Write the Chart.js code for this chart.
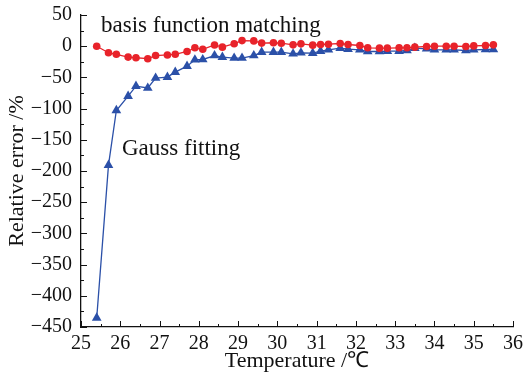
<!DOCTYPE html>
<html>
<head>
<meta charset="utf-8">
<script src="https://cdn.jsdelivr.net/npm/chart.js@4.4.1/dist/chart.umd.min.js"></script>
<style>
  html, body { margin: 0; padding: 0; background: #fff; }
  #wrap { width: 526px; height: 375px; }
</style>
</head>
<body>
<div id="wrap"><canvas id="errChart"></canvas></div>
<script>
// temperatures (°C)
const temps = [25.4, 25.7, 25.9, 26.2, 26.4, 26.7, 26.9, 27.2, 27.4, 27.7, 27.9, 28.1, 28.4, 28.6,
  28.9, 29.1, 29.4, 29.6, 29.9, 30.1, 30.4, 30.6, 30.9, 31.1, 31.3, 31.6, 31.8, 32.1, 32.3, 32.6,
  32.8, 33.1, 33.3, 33.5, 33.8, 34.0, 34.3, 34.5, 34.8, 35.0, 35.3, 35.5];

// relative error (%) - basis function matching
const basisErr = [0, -10.5, -13, -17.5, -18.5, -20, -15, -14, -13, -8.5, -2.6, -5, 2, -1.5,
  4, 9, 8.5, 5, 5.5, 4.8, 2.2, 3.8, 1.7, 2.7, 3.2, 4.3, 2.7, 1.1, -2.6, -3.1,
  -3.1, -2.6, -2.6, -1.5, -0.5, 0, 0, 0, -0.5, 0.5, 1.1, 2.2];

// relative error (%) - Gauss fitting
const gaussErr = [-435.5, -190.6, -103, -80, -64, -67, -51, -49.5, -41.5, -32, -21.8, -21.3, -15, -17.5,
  -19, -19, -15, -9.6, -9.6, -9.5, -12.2, -10.6, -11.1, -7.9, -5.8, -3.1, -4.7, -5.8, -8.5, -8.5,
  -7.9, -7.9, -6.9, -3.1, -4.2, -5.8, -5.8, -5.8, -6.9, -5.8, -5.3, -5.3];

const xTicks = [25, 26, 27, 28, 29, 30, 31, 32, 33, 34, 35, 36];
const yTicks = [50, 0, -50, -100, -150, -200, -250, -300, -350, -400, -450];

const SERIF = '"Liberation Serif", "Times New Roman", serif';
const RED = '#e8232a';
const BLUE = '#2b50a8';

const toXY = (vals) => vals.map((v, i) => ({ x: temps[i], y: v }));

// inward ticks, axis titles and curve labels
const decorPlugin = {
    id: 'decor',
    afterDraw(chart) {
        const { ctx, chartArea: a, scales: { x, y } } = chart;
        ctx.save();
        ctx.strokeStyle = '#111';
        ctx.lineWidth = 1;
        for (let v = 25; v <= 36.001; v += 0.5) {
            const px = Math.round(x.getPixelForValue(v)) + 0.5;
            const len = Number.isInteger(v) ? 6 : 3;
            ctx.beginPath(); ctx.moveTo(px, a.bottom); ctx.lineTo(px, a.bottom - len); ctx.stroke();
        }
        for (let v = -450; v <= 50.001; v += 25) {
            const py = Math.round(y.getPixelForValue(v)) + 0.5;
            const len = (v % 50 === 0) ? 6 : 3;
            ctx.beginPath(); ctx.moveTo(a.left, py); ctx.lineTo(a.left + len, py); ctx.stroke();
        }

        ctx.fillStyle = '#111';
        ctx.font = '22px ' + SERIF;
        ctx.textAlign = 'center';
        ctx.textBaseline = 'alphabetic';
        ctx.fillText('Temperature /℃', (a.left + a.right) / 2, 367);

        ctx.save();
        ctx.translate(23, (a.top + a.bottom) / 2);
        ctx.rotate(-Math.PI / 2);
        ctx.fillText('Relative error /%', 0, 0);
        ctx.restore();

        ctx.textAlign = 'left';
        ctx.font = '23px ' + SERIF;
        ctx.fillText('basis function matching', 101, 32);
        ctx.fillText('Gauss fitting', 122, 155);
        ctx.restore();
    }
};

new Chart(document.getElementById('errChart'), {
    type: 'line',
    data: {
        datasets: [{
            label: 'basis function matching',
            data: toXY(basisErr),
            borderColor: RED,
            backgroundColor: RED,
            borderWidth: 1.3,
            pointStyle: 'circle',
            pointRadius: 3.8,
            pointBorderWidth: 0,
            tension: 0
        }, {
            label: 'Gauss fitting',
            data: toXY(gaussErr),
            borderColor: BLUE,
            backgroundColor: BLUE,
            borderWidth: 1.3,
            pointStyle: 'triangle',
            pointRadius: 5.6,
            pointBorderWidth: 0,
            tension: 0
        }]
    },
    options: {
        responsive: true,
        maintainAspectRatio: false,
        animation: false,
        events: [],
        layout: { padding: { left: 0, right: 13, top: 15, bottom: 0 } },
        plugins: { legend: { display: false }, tooltip: { enabled: false } },
        scales: {
            x: {
                type: 'linear',
                min: 25,
                max: 36,
                afterFit: (s) => { s.height = 48; s.paddingLeft = 0; s.paddingRight = 0; },
                afterBuildTicks: (s) => { s.ticks = xTicks.map(v => ({ value: v })); },
                grid: { display: true, drawOnChartArea: false, drawTicks: false },
                border: { display: true, color: '#111', width: 1.3 },
                ticks: {
                    color: '#111',
                    padding: 5,
                    maxRotation: 0,
                    autoSkip: false,
                    font: { family: SERIF, size: 20 },
                    callback: (v) => String(v)
                }
            },
            y: {
                min: -450,
                max: 50,
                afterFit: (s) => { s.width = 81; s.paddingTop = 0; s.paddingBottom = 0; },
                afterBuildTicks: (s) => { s.ticks = yTicks.map(v => ({ value: v })); },
                grid: { display: true, drawOnChartArea: false, drawTicks: false },
                border: { display: true, color: '#111', width: 1.3 },
                ticks: {
                    color: '#111',
                    padding: 9,
                    autoSkip: false,
                    font: { family: SERIF, size: 20 },
                    callback: (v) => (v < 0 ? '\u2212' + Math.abs(v) : String(v))
                }
            }
        }
    },
    plugins: [decorPlugin]
});
</script>
</body>
</html>
